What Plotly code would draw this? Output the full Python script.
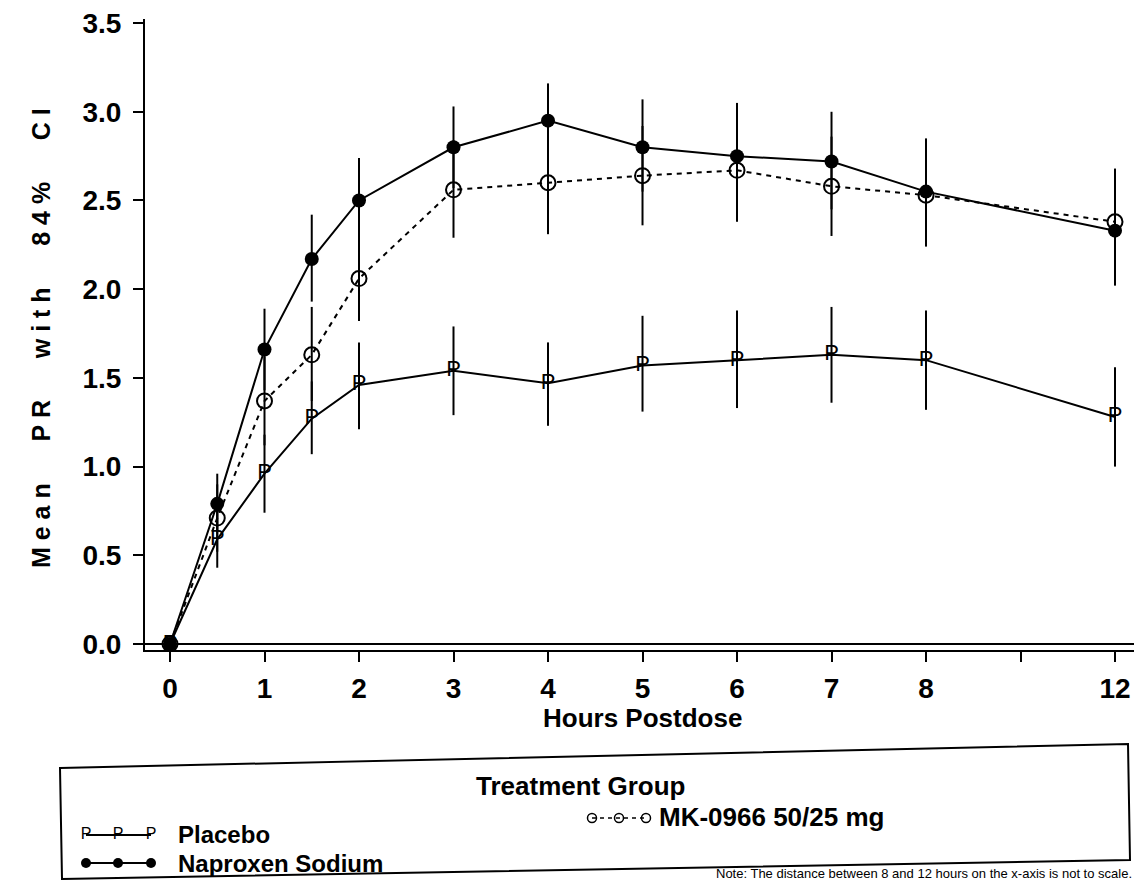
import plotly.graph_objects as go

# ---------------- data ----------------
hours = [0, 0.5, 1, 1.5, 2, 3, 4, 5, 6, 7, 8, 12]
# axis is not to scale: 12 hours is drawn at position 10
hour_pos = [0, 0.5, 1, 1.5, 2, 3, 4, 5, 6, 7, 8, 10]
tick_pos = [0, 1, 2, 3, 4, 5, 6, 7, 8, 9, 10]
tick_text = ["0", "1", "2", "3", "4", "5", "6", "7", "8", "", "12"]
y_ticks = [0.0, 0.5, 1.0, 1.5, 2.0, 2.5, 3.0, 3.5]

placebo_mean = [0, 0.59, 0.96, 1.27, 1.46, 1.54, 1.47, 1.57, 1.60, 1.63, 1.60, 1.28]
placebo_up = [0, 0.76, 1.18, 1.48, 1.70, 1.79, 1.70, 1.85, 1.88, 1.90, 1.88, 1.56]
placebo_lo = [0, 0.43, 0.74, 1.07, 1.21, 1.29, 1.23, 1.31, 1.33, 1.36, 1.32, 1.00]

naproxen_mean = [0, 0.79, 1.66, 2.17, 2.50, 2.80, 2.95, 2.80, 2.75, 2.72, 2.55, 2.33]
naproxen_up = [0, 0.96, 1.89, 2.42, 2.74, 3.03, 3.16, 3.07, 3.05, 3.00, 2.85, 2.64]
naproxen_lo = [0, 0.63, 1.43, 1.93, 2.26, 2.57, 2.71, 2.55, 2.47, 2.45, 2.25, 2.02]

mk_mean = [0, 0.71, 1.37, 1.63, 2.06, 2.56, 2.60, 2.64, 2.67, 2.58, 2.53, 2.38]
mk_up = [0, 0.90, 1.62, 1.90, 2.32, 2.84, 2.88, 2.92, 2.96, 2.86, 2.82, 2.68]
mk_lo = [0, 0.52, 1.12, 1.37, 1.82, 2.29, 2.31, 2.36, 2.38, 2.30, 2.24, 2.08]

group_names = ["Placebo", "Naproxen Sodium", "MK-0966 50/25 mg"]

# ---------------- figure ----------------
PAGE_W, PAGE_H = 1142, 888
OFF = 8                      # default page body margin
W, H = PAGE_W - 2 * OFF, PAGE_H - 2 * OFF
FONT = "Liberation Sans, Arial, Helvetica, sans-serif"
BLACK = "#000000"


def px(x):
    """page pixel x -> paper fraction"""
    return (x - OFF) / W


def py(y):
    """page pixel y -> paper fraction"""
    return 1 - (y - OFF) / H


def err(mean, up, lo):
    return dict(type="data", symmetric=False,
                array=[u - m for u, m in zip(up, mean)],
                arrayminus=[m - l for m, l in zip(mean, lo)],
                width=0, thickness=2, color=BLACK)


fig = go.Figure()

fig.add_trace(go.Scatter(
    x=hour_pos, y=placebo_mean, mode="lines+text", name=group_names[0],
    text=["P"] * len(hours), textposition="middle center",
    textfont=dict(family=FONT, size=22, color=BLACK),
    line=dict(color=BLACK, width=2),
    error_y=err(placebo_mean, placebo_up, placebo_lo),
    customdata=hours, showlegend=False))

fig.add_trace(go.Scatter(
    x=hour_pos, y=mk_mean, mode="lines+markers", name=group_names[2],
    line=dict(color=BLACK, width=2, dash="5px,5px"),
    marker=dict(symbol="circle-open", size=15, color=BLACK, line=dict(width=2, color=BLACK)),
    error_y=err(mk_mean, mk_up, mk_lo),
    customdata=hours, showlegend=False))

fig.add_trace(go.Scatter(
    x=hour_pos, y=naproxen_mean, mode="lines+markers", name=group_names[1],
    line=dict(color=BLACK, width=2),
    marker=dict(symbol="circle", size=14, color=BLACK),
    error_y=err(naproxen_mean, naproxen_up, naproxen_lo),
    customdata=hours, showlegend=False))

# ---- legend samples drawn on a hidden helper axis (page pixel units) ----
leg_x = [86, 118, 151]
fig.add_trace(go.Scatter(
    x=leg_x, y=[835] * 3, xaxis="x2", yaxis="y2", mode="lines+text",
    text=["P"] * 3, textposition="middle center",
    textfont=dict(family=FONT, size=16, color=BLACK),
    line=dict(color=BLACK, width=2), showlegend=False, hoverinfo="skip"))
fig.add_trace(go.Scatter(
    x=leg_x, y=[863] * 3, xaxis="x2", yaxis="y2", mode="lines+markers",
    marker=dict(symbol="circle", size=10, color=BLACK),
    line=dict(color=BLACK, width=2), showlegend=False, hoverinfo="skip"))
fig.add_trace(go.Scatter(
    x=[592, 619, 646], y=[818] * 3, xaxis="x2", yaxis="y2", mode="lines+markers",
    marker=dict(symbol="circle-open", size=9, color=BLACK, line=dict(width=1.5, color=BLACK)),
    line=dict(color=BLACK, width=1.5, dash="4px,4px"), showlegend=False, hoverinfo="skip"))

tick_font = dict(family=FONT, size=28, weight="bold", color=BLACK)

fig.update_layout(
    width=W, height=H,
    margin=dict(l=0, r=0, t=0, b=0, pad=0),
    autosize=False,
    paper_bgcolor="white", plot_bgcolor="rgba(0,0,0,0)",
    font=dict(family=FONT, color=BLACK),
    xaxis=dict(domain=[px(145), 1.0], range=[-0.2646, 10.201],
               tickvals=tick_pos, ticktext=tick_text,
               showline=True, linewidth=2, linecolor=BLACK, mirror=False,
               ticks="outside", ticklen=10, tickwidth=2, tickcolor=BLACK,
               ticklabelstandoff=2, automargin=False, ticklabeloverflow="allow",
               tickfont=tick_font,
               showgrid=False, zeroline=False, fixedrange=True),
    yaxis=dict(domain=[py(650), py(19)], range=[-0.0338, 3.523],
               tickvals=y_ticks, ticktext=[f"{v:.1f}" for v in y_ticks],
               showline=True, linewidth=2, linecolor=BLACK,
               ticks="outside", ticklen=10, tickwidth=2, tickcolor=BLACK,
               ticklabelstandoff=6, automargin=False, ticklabeloverflow="allow",
               tickfont=tick_font,
               showgrid=False, zeroline=True, zerolinewidth=2, zerolinecolor=BLACK,
               fixedrange=True),
    xaxis2=dict(domain=[0, 1], range=[OFF, OFF + W], visible=False,
                automargin=False, fixedrange=True),
    yaxis2=dict(domain=[0, py(750)], range=[OFF + H, 750], visible=False,
                automargin=False, fixedrange=True),
)

sp = "\u00a0"
ytitle = (sp * 6).join(sp.join(list(w)) for w in ["Mean", "PR", "with", "84%", "CI"])

annotations = [
    dict(text=ytitle, x=px(41), y=py(338), xref="paper", yref="paper",
         textangle=-90, showarrow=False, xanchor="center", yanchor="middle",
         font=dict(family=FONT, size=25, weight="bold", color=BLACK)),
    dict(text="Hours Postdose", x=px(642), y=py(718), xref="paper", yref="paper",
         showarrow=False, xanchor="center", yanchor="middle",
         font=dict(family=FONT, size=26, weight="bold", color=BLACK)),
    dict(text="Treatment Group", x=px(580), y=py(786), xref="paper", yref="paper",
         showarrow=False, xanchor="center", yanchor="middle",
         font=dict(family=FONT, size=26, weight="bold", color=BLACK)),
    dict(text=group_names[0], x=px(176), y=py(834), xref="paper", yref="paper",
         showarrow=False, xanchor="left", yanchor="middle",
         font=dict(family=FONT, size=24, weight="bold", color=BLACK)),
    dict(text=group_names[1], x=px(176), y=py(863), xref="paper", yref="paper",
         showarrow=False, xanchor="left", yanchor="middle",
         font=dict(family=FONT, size=24, weight="bold", color=BLACK)),
    dict(text=group_names[2], x=px(657), y=py(817), xref="paper", yref="paper",
         showarrow=False, xanchor="left", yanchor="middle",
         font=dict(family=FONT, size=26, weight="bold", color=BLACK)),
    dict(text="Note: The distance between 8 and 12 hours on the x-axis is not to scale.",
         x=px(1134), y=py(864), xref="paper", yref="paper",
         showarrow=False, xanchor="right", yanchor="top",
         font=dict(family=FONT, size=13, color=BLACK)),
]
fig.update_layout(annotations=annotations)

# legend frame, slightly skewed as in the scanned original
x_l, x_r = px(60), px(1128)
fig.add_shape(type="path", xref="paper", yref="paper",
              path=(f"M {x_l},{py(768)} L {x_r},{py(744)} "
                    f"L {px(1130)},{py(860)} L {px(62)},{py(879)} Z"),
              line=dict(color=BLACK, width=2), fillcolor="rgba(0,0,0,0)")

fig.write_html("out.html")
